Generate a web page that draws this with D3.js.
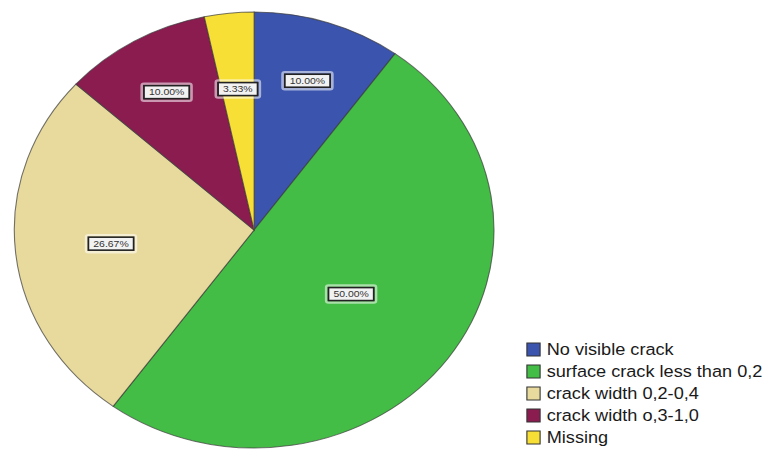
<!DOCTYPE html>
<html>
<head>
<meta charset="utf-8">
<script src="https://cdn.jsdelivr.net/npm/d3@7"></script>
<style>
  body { margin: 0; background: #fff; }
  svg { display: block; }
</style>
</head>
<body>
<svg id="chart" width="764" height="451"></svg>
<script>
// data
var categories = ['No visible crack', 'surface crack less than 0,2', 'crack width 0,2-0,4', 'crack width o,3-1,0', 'Missing'];
var percents = [10.00, 50.00, 26.67, 10.00, 3.33];
var sliceLabels = ['10.00%', '50.00%', '26.67%', '10.00%', '3.33%'];

// styling / layout
var colors = ['#3b54ae', '#43bd45', '#e8da9c', '#8a1c50', '#f8df36'];
var labelRadius = [0.72, 0.50, 0.60, 0.73, 0.65]; // fraction of radius, per slice
var STRETCH = 1.1; // the whole picture is a bit wider than tall
var CX = 231, CY = 230, R = 218;

var svg = d3.select('#chart');
var g = svg.append('g').attr('transform', 'scale(' + STRETCH + ',1)');

var pie = d3.pie().sort(null).value(function(d){ return d; });
var arcs = pie(percents);
var arc = d3.arc().innerRadius(0).outerRadius(R);

var pieG = g.append('g').attr('transform', 'translate(' + CX + ',' + CY + ')');

pieG.selectAll('path.slice')
    .data(arcs)
    .enter().append('path')
    .attr('class', 'slice')
    .attr('d', arc)
    .attr('fill', function(d, i){ return colors[i]; })
    .attr('stroke', '#3a3a3a')
    .attr('stroke-opacity', 0.7)
    .attr('stroke-width', 1);

// boxed percentage labels
var labelG = pieG.selectAll('g.lbl')
    .data(arcs)
    .enter().append('g')
    .attr('class', 'lbl')
    .attr('transform', function(d, i){
        var a = (d.startAngle + d.endAngle) / 2;
        var r = R * labelRadius[i];
        return 'translate(' + (Math.sin(a) * r) + ',' + (-Math.cos(a) * r) + ')';
    });

labelG.each(function(d, i){
    var el = d3.select(this);
    var t = el.append('text')
        .attr('text-anchor', 'middle')
        .attr('dy', '0.35em')
        .attr('font-family', 'Liberation Sans, Arial, sans-serif')
        .attr('font-size', 9.5)
        .attr('fill', '#333')
        .text(sliceLabels[i]);
    var w = t.node().getComputedTextLength() + 9;
    var h = 13;
    el.insert('rect', 'text')
        .attr('x', -w / 2 - 2).attr('y', -h / 2 - 2)
        .attr('width', w + 4).attr('height', h + 4)
        .attr('rx', 2)
        .attr('fill', 'none')
        .attr('stroke', '#fff')
        .attr('stroke-opacity', 0.55)
        .attr('stroke-width', 2.5);
    el.insert('rect', 'text')
        .attr('x', -w / 2).attr('y', -h / 2)
        .attr('width', w).attr('height', h)
        .attr('fill', '#f2f2f2')
        .attr('stroke', '#222')
        .attr('stroke-width', 1.6);
});

// legend
var legend = g.append('g').attr('transform', 'translate(479,343)');
var ROW = 22;

legend.selectAll('rect')
    .data(categories)
    .enter().append('rect')
    .attr('x', 0)
    .attr('y', function(d, i){ return i * ROW; })
    .attr('width', 12)
    .attr('height', 13)
    .attr('fill', function(d, i){ return colors[i]; })
    .attr('stroke', '#333')
    .attr('stroke-width', 1);

legend.selectAll('text')
    .data(categories)
    .enter().append('text')
    .attr('x', 18)
    .attr('y', function(d, i){ return i * ROW + 12; })
    .attr('font-family', 'Liberation Sans, Arial, sans-serif')
    .attr('font-size', 16.5)
    .attr('fill', '#1a1a1a')
    .text(function(d){ return d; });
</script>
</body>
</html>
